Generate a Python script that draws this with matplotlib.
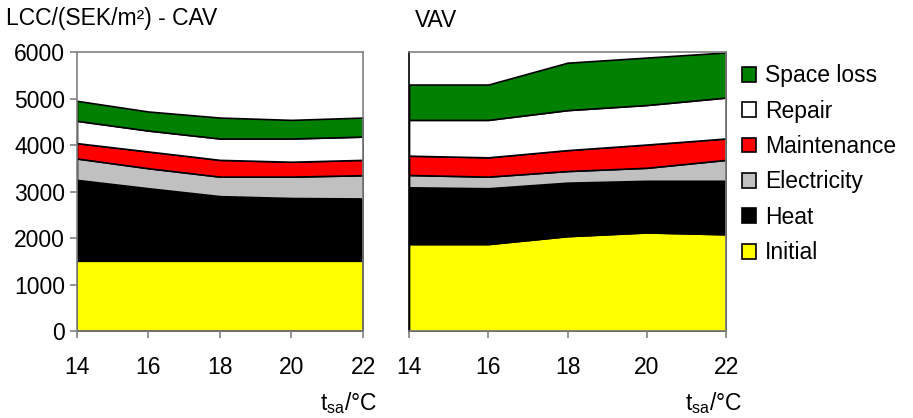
import numpy as np
import matplotlib.pyplot as plt
from matplotlib.patches import Patch

plt.rcParams['font.family'] = ['Liberation Sans', 'DejaVu Sans']

# Temperatura nawiewu
t_sa = [14, 16, 18, 20, 22]

components = ["Initial", "Heat", "Electricity", "Maintenance", "Repair", "Space loss"]
colors = ["#ffff00", "#000000", "#c0c0c0", "#ff0000", "#ffffff", "#008000"]

# CAV - wartości skumulowane (górna krawędź każdej warstwy)
cav_initial = [1510, 1510, 1510, 1510, 1510]
cav_heat = [3250, 3070, 2900, 2860, 2850]
cav_electricity = [3710, 3500, 3320, 3320, 3350]
cav_maintenance = [4040, 3860, 3680, 3640, 3680]
cav_repair = [4520, 4310, 4140, 4140, 4180]
cav_space_loss = [4950, 4720, 4590, 4540, 4590]

# VAV - wartości skumulowane
vav_initial = [1870, 1870, 2040, 2120, 2080]
vav_heat = [3090, 3070, 3190, 3230, 3230]
vav_electricity = [3355, 3320, 3440, 3510, 3680]
vav_maintenance = [3770, 3735, 3890, 4010, 4140]
vav_repair = [4540, 4540, 4750, 4860, 5020]
vav_space_loss = [5300, 5300, 5770, 5880, 5990]

cav = [cav_initial, cav_heat, cav_electricity, cav_maintenance, cav_repair, cav_space_loss]
vav = [vav_initial, vav_heat, vav_electricity, vav_maintenance, vav_repair, vav_space_loss]

FS = 16.5
GRAY = "#808080"


def draw_stack(ax, layers):
    lower = np.zeros(len(t_sa))
    for top, col in zip(layers, colors):
        top = np.array(top, dtype=float)
        ax.fill_between(t_sa, lower, top, facecolor=col, edgecolor="black", linewidth=1.2)
        lower = top
    ax.set_xlim(14, 22)
    ax.set_ylim(0, 6000)
    ax.set_xticks(t_sa)
    for s in ax.spines.values():
        s.set_color(GRAY)
        s.set_linewidth(1.2)
    ax.tick_params(axis="both", colors=GRAY, labelcolor="black", labelsize=FS,
                   length=5, width=1.2, direction="out")
    ax.tick_params(axis="x", pad=13)


fig = plt.figure(figsize=(9.13, 4.18), dpi=100)
ax1 = fig.add_axes([0.0843, 0.2081, 0.3133, 0.6675])
ax2 = fig.add_axes([0.448, 0.2081, 0.3472, 0.6675])

draw_stack(ax1, cav)
ax1.set_yticks([0, 1000, 2000, 3000, 4000, 5000, 6000])

draw_stack(ax2, vav)
ax2.set_yticks([])
ax2.spines["left"].set_color("black")

fig.text(0.007, 0.955, "LCC/(SEK/m²) - CAV", fontsize=FS, va="center", ha="left")
fig.text(0.454, 0.952, "VAV", fontsize=FS, va="center", ha="left")
fig.text(0.413, 0.035, "t$_{\\mathregular{sa}}$/°C", fontsize=FS, va="center", ha="right")
fig.text(0.813, 0.035, "t$_{\\mathregular{sa}}$/°C", fontsize=FS, va="center", ha="right")

handles = [Patch(facecolor=c, edgecolor="black", linewidth=1.2, label=n)
           for n, c in zip(components, colors)][::-1]
fig.legend(handles=handles, loc="upper left", bbox_to_anchor=(0.813, 0.846),
           frameon=False, fontsize=16.5, handlelength=0.62, handleheight=0.62,
           handletextpad=0.38, labelspacing=0.54, borderaxespad=0, borderpad=0)

fig.savefig("out.png", dpi=100)
